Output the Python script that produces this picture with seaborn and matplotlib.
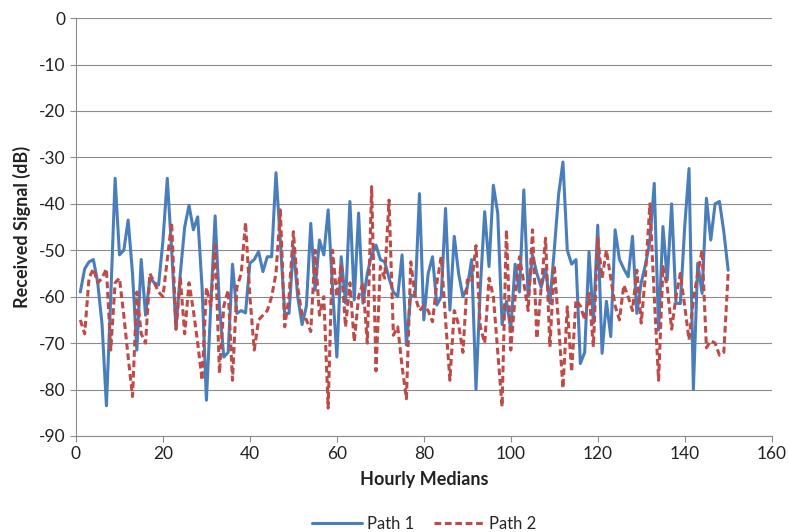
import numpy as np
import pandas as pd
import matplotlib
matplotlib.use("Agg")
import matplotlib.pyplot as plt
import seaborn as sns

hours = list(range(1, 151))

path1 = [
    -59, -54, -52.5, -52, -57, -66, -83.5, -60, -34.5, -51,
    -50, -43.5, -55, -71.5, -52, -64, -56, -57, -57.5, -48,
    -34.5, -50, -67, -55, -45, -40.3, -45.6, -42.8, -58, -82.3,
    -62, -42.6, -62, -73, -72, -53, -63.6, -63, -63.5, -52.8,
    -52, -50.3, -54.6, -51.4, -51.4, -33.3, -48, -63.6, -63.6, -49.2,
    -60, -66, -62, -44.2, -58.6, -47.8, -51, -41.3, -58, -73,
    -51.4, -61.4, -39.5, -60.7, -42, -61.4, -55, -51, -48.9, -52,
    -52.5, -56, -59, -60, -51, -70.4, -59.6, -60, -37.8, -65,
    -55, -51.4, -61.8, -60, -41, -62.9, -47, -55, -60, -58,
    -52, -80, -58, -41.7, -53.5, -36, -42, -66, -61, -67,
    -53, -59, -37, -60, -51, -55, -58, -54, -61.4, -50,
    -38, -31, -50, -53, -52, -74.4, -72, -50.3, -65.7, -44.6,
    -72.2, -61, -68.6, -45.6, -52, -54, -55.7, -47, -63.6, -57,
    -53, -48, -35.6, -67.2, -44.9, -56.4, -40, -61.4, -61.5, -45,
    -32.4, -80, -52.8, -59.3, -38.8, -47.8, -40, -39.5, -46, -54.3,
]

path2 = [
    -65, -68, -56, -54, -57, -56, -54, -71.5, -57, -56,
    -64, -73, -81.5, -59, -68, -70, -55, -57, -59, -60,
    -52, -44, -67, -56, -68, -57, -63, -70, -78, -58,
    -62, -49, -76.5, -62, -58.6, -78, -58, -55, -44, -60,
    -71.5, -65, -64, -63, -60, -55, -41.3, -66.5, -60, -46,
    -58, -64, -65, -67.5, -50, -64, -60, -84, -50, -60,
    -53, -66.5, -57, -69.7, -60, -57, -70, -36.3, -76, -53.5,
    -56, -39.2, -68.3, -66.5, -75, -82, -52.5, -60, -63, -62,
    -63, -65.4, -57, -51.4, -65, -78, -63, -66, -72, -56.4,
    -57, -49, -66.5, -70, -56, -60, -72, -83.7, -45.6, -71.5,
    -60, -51.4, -57, -63, -45.6, -69, -58, -47.4, -70.8, -53.2,
    -66, -79.7, -62.2, -76.2, -60.7, -62, -65, -59.3, -70.8, -47.4,
    -56, -50, -56, -62, -65, -57.5, -60, -63, -54.3, -65.7,
    -55, -40, -60, -78, -53.5, -58, -67, -60, -55, -62,
    -69.3, -60.7, -55, -50, -71, -69.5, -70, -72.6, -72, -55,
]

series_names = ["Path 1", "Path 2"]
x_ticks = list(range(0, 161, 20))
y_ticks = list(range(-90, 1, 10))

df = pd.DataFrame({
    "Hourly Medians": hours * 2,
    "Received Signal (dB)": path1 + path2,
    "series": [series_names[0]] * len(path1) + [series_names[1]] * len(path2),
})

sns.set_theme(style="white")
plt.rcParams["font.family"] = ["Lato", "DejaVu Sans"]
plt.rcParams["axes.unicode_minus"] = False

fig = plt.figure(figsize=(7.89, 5.32), dpi=100)
ax = fig.add_axes([0.0963, 0.1805, 0.8817, 0.7855])

palette = {"Path 1": "#4A7EBB", "Path 2": "#BE4B48"}
dashes = {"Path 1": "", "Path 2": (2.2, 1.2)}
sns.lineplot(data=df, x="Hourly Medians", y="Received Signal (dB)",
             hue="series", style="series", palette=palette, dashes=dashes,
             linewidth=2.2, ax=ax, legend=True)

ax.set_xlim(0, 160)
ax.set_ylim(-90, 0)
ax.set_xticks(x_ticks)
ax.set_yticks(y_ticks)
ax.yaxis.grid(True, color="#8c8c8c", linewidth=0.8)
ax.xaxis.grid(False)
ax.set_axisbelow(True)
for side in ["top", "right"]:
    ax.spines[side].set_visible(False)
for side in ["left", "bottom"]:
    ax.spines[side].set_color("#8c8c8c")
    ax.spines[side].set_linewidth(0.8)
ax.tick_params(axis="both", which="both", length=4, width=0.8, color="#8c8c8c",
               labelsize=12.5, labelcolor="#222222", direction="out",
               bottom=True, left=True)
ax.set_xlabel("Hourly Medians", fontsize=13, fontweight="bold", color="#222222", labelpad=6)
ax.set_ylabel("Received Signal (dB)", fontsize=13, fontweight="bold", color="#222222", labelpad=6)

handles, labels = ax.get_legend_handles_labels()
ax.legend(handles=handles, labels=labels, loc="upper center",
          bbox_to_anchor=(0.5, -0.155), ncol=2, frameon=False,
          fontsize=12, handlelength=3, columnspacing=1.2, handletextpad=0.3)

fig.savefig("out.png", dpi=100)
